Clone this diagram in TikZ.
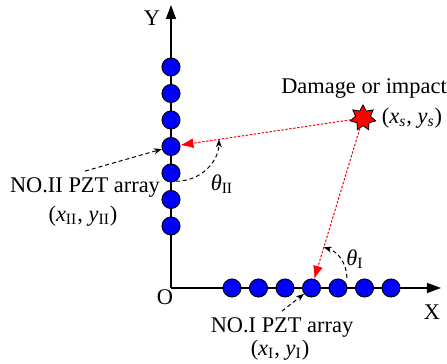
\documentclass[tikz,border=0pt]{standalone}
\usepackage{fontspec}
\setmainfont{Liberation Serif}
\usepackage{xcolor}
\definecolor{colPzt}{HTML}{0000FF}
\definecolor{colHit}{HTML}{FF0000}
\usepackage{tikz}
\usetikzlibrary{arrows.meta, shapes.geometric, calc}

\begin{document}
\begin{tikzpicture}[x=0.5pt, y=0.5pt,
        font=\fontsize{11.2}{13}\selectfont,
        pzt/.style={circle, draw=black, line width=0.5pt, fill=colPzt, minimum size=9pt, inner sep=0pt},
        axis/.style={line width=0.75pt, -{Triangle[length=7pt, width=5pt]}},
        wave/.style={colHit, line width=0.5pt, dash pattern=on 1.2pt off 0.8pt, -{Latex[length=6.5pt, width=5pt]}},
        hint/.style={line width=0.5pt, dash pattern=on 2pt off 1.5pt, -{Stealth[length=4pt, width=3pt]}}]
        \useasboundingbox (0,0) rectangle (447,364);
        % Assi
        \coordinate (o) at (171,76);
        \draw[axis] (o) -- (171,359);
        \draw[axis] (o) -- (441,76);
        \node (ylab) at (152,346) {Y};
        \node (xlab) at (432,52) {X};
        \node (olab) at (165,67) {O};
        % Array II (vertical) e array I (horizontal)
        \foreach \i in {1,...,7}{
            \node[pzt] (v\i) at (171,{297-26.5*(\i-1)}) {};
            \node[pzt] (h\i) at ({232+26.5*(\i-1)},76) {};}
        % Damage source
        \node[star, star points=7, star point ratio=1.7, draw=black, line width=0.4pt, fill=colHit,
              minimum size=13pt, inner sep=0pt] (s) at (363,246) {};
        \node (dlab) at (364,275) {Damage or impact};
        \node (slab) at (412,246) {(\textit{x}\textsubscript{\textit{s}}, \textit{y}\textsubscript{\textit{s}})};
        % Wave paths
        \draw[wave] (s) -- (v4);
        \draw[wave] (s) -- (h4);
        % Labels of the arrays
        \node (lab2) at (85,176) {NO.II PZT array};
        \node (pos2) at (83,148) {(\textit{x}\textsubscript{II}, \textit{y}\textsubscript{II})};
        \node (lab1) at (282,36) {NO.I PZT array};
        \node (pos1) at (280,14) {(\textit{x}\textsubscript{I}, \textit{y}\textsubscript{I})};
        \draw[hint] (lab2.north) -- (v4);
        \draw[hint] (lab1.north) -- (h4);
        % Angles
        \coordinate (a2) at ($(v4)!0.25!(s)$);
        \coordinate (a1) at ($(h4)!0.24!(s)$);
        \draw[hint] (v5.-60) to[bend right=45] (a2);
        \draw[hint] (347,86) to[bend right=35] (a1);
        \node (t2) at (222,180) {\textit{θ}\textsubscript{II}};
        \node (t1) at (355,105) {\textit{θ}\textsubscript{I}};
    \end{tikzpicture}
\end{document}
